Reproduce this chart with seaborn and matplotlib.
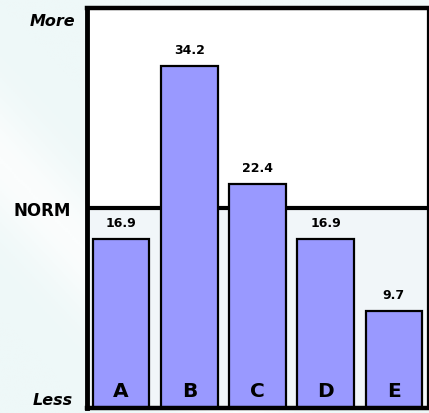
import matplotlib
matplotlib.use("Agg")
import matplotlib.pyplot as plt
import seaborn as sns
import pandas as pd
import numpy as np

categories = ["A", "B", "C", "D", "E"]
values = [16.9, 34.2, 22.4, 16.9, 9.7]
norm_level = 20
y_max = 40

sns.set_theme(style="white")
plt.rcParams["font.family"] = ["DejaVu Sans"]

W, H = 429, 414
fig = plt.figure(figsize=(W / 100, H / 100), dpi=100)
fig.patch.set_facecolor("#eff9f9")

# soft diagonal sheen behind everything
bg = fig.add_axes([0, 0, 1, 1], zorder=-10)
yy, xx = np.mgrid[0:1:200j, 0:1:200j]
band = np.exp(-((xx * 1.0 + (1 - yy) * 0.9 - 0.55) ** 2) / 0.02)
bg.imshow(band, cmap=matplotlib.colors.LinearSegmentedColormap.from_list(
    "sheen", ["#eef8f8", "#fbfdfd"]), aspect="auto", extent=[0, 1, 0, 1])
bg.axis("off")

ax = fig.add_axes([87 / W, 1 - 409 / H, 341 / W, 400 / H])
ax.set_facecolor("white")
ax.axhspan(0, norm_level, color="#f1f6f9", zorder=0)
ax.axhline(norm_level, color="black", linewidth=3, zorder=1)

df = pd.DataFrame({"cat": categories, "val": values})
sns.barplot(data=df, x="cat", y="val", color="#9999ff", saturation=1,
            edgecolor="black", linewidth=1.6, width=0.83, ax=ax, zorder=2)

ax.set_xlim(-0.5, 4.5)
ax.set_ylim(0, y_max)

for i, (c, v) in enumerate(zip(categories, values)):
    ax.text(i, v + 0.95, f"{v}", ha="center", va="bottom",
            fontsize=9, fontweight="bold", color="black", zorder=4)
    ax.text(i, 0.8, c, ha="center", va="bottom",
            fontsize=14.5, fontweight="bold", color="black", zorder=4)

ax.set_xticks([])
ax.set_yticks([])
ax.set_xlabel("")
ax.set_ylabel("")
for side, lw in [("left", 3.5), ("top", 3.2), ("bottom", 3.2), ("right", 1.6)]:
    ax.spines[side].set_visible(True)
    ax.spines[side].set_color("black")
    ax.spines[side].set_linewidth(lw)
    ax.spines[side].set_zorder(5)

fig.text(75 / W, 1 - 21 / H, "More", ha="right", va="center",
         fontsize=11.5, fontweight="bold", fontstyle="italic", color="black")
fig.text(71 / W, 1 - 211 / H, "NORM", ha="right", va="center",
         fontsize=12, fontweight="bold", color="black")
fig.text(73 / W, 1 - 401 / H, "Less", ha="right", va="center",
         fontsize=11.5, fontweight="bold", fontstyle="italic", color="black")

fig.savefig("out.png", dpi=100, facecolor=fig.get_facecolor())
